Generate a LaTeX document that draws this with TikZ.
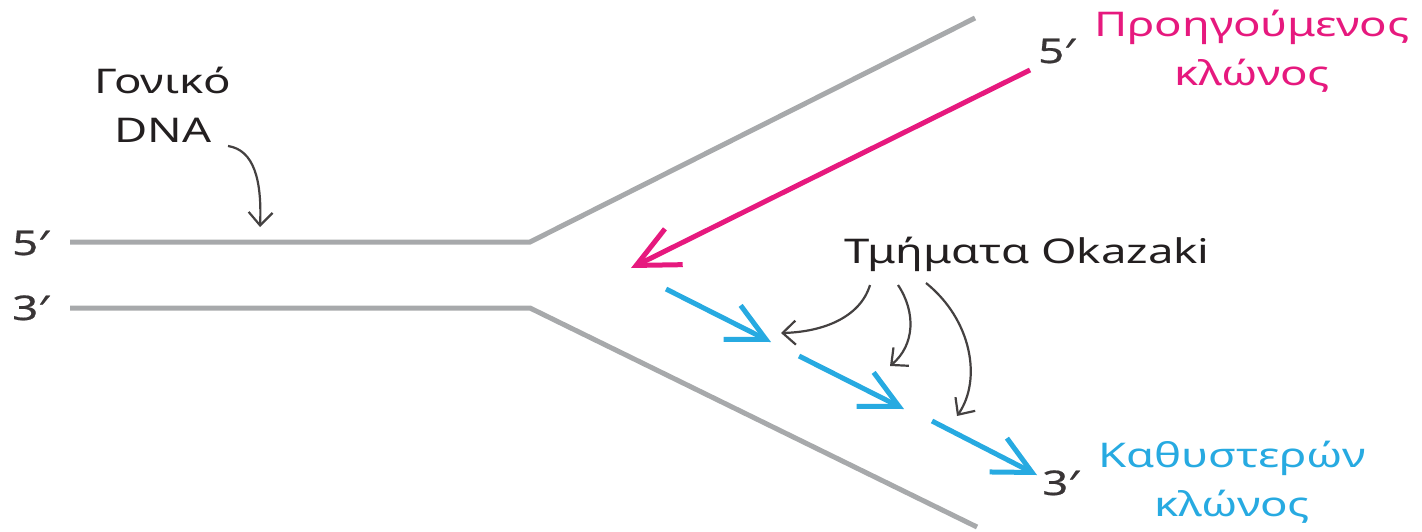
\documentclass[tikz,border=0pt]{standalone}
\usepackage{fontspec}
\setmainfont[FakeStretch=1.34]{Noto Sans}
\newfontfamily\endsfont[FakeStretch=1.34,FakeBold=0.6]{Noto Sans}
\usetikzlibrary{arrows.meta}
\definecolor{strand}{HTML}{A7A9AB}
\definecolor{lead}{HTML}{E6197E}
\definecolor{lag}{HTML}{27AAE1}
\definecolor{ink}{HTML}{231F20}
\tikzset{
  strandline/.style={draw=strand, line width=5pt, line join=miter},
  leadarrow/.style={draw=lead, line width=5pt, -{Straight Barb[length=42pt,width=40pt]}},
  lagarrow/.style={draw=lag, line width=5pt, -{Straight Barb[length=38pt,width=38pt]}},
  pointer/.style={draw=ink!85, line width=2.2pt, -{Straight Barb[length=13pt,width=24pt]}},
  % multi-line labels: the base anchor sits on the last line
  label/.style={font=\fontsize{34}{49}\selectfont, inner sep=0pt, align=center, anchor=base},
  endlabel/.style={font=\endsfont\fontsize{34}{40}\selectfont, text=ink!90, inner sep=0pt, anchor=base west},
}
\begin{document}
\begin{tikzpicture}[x=1pt, y=-1pt]
\useasboundingbox (0,0) rectangle (1422,531);

% parental strands opening into the fork
\coordinate (t0) at (70,242);
\coordinate (t1) at (530,242);
\coordinate (t2) at (975,18);
\coordinate (b0) at (70,308);
\coordinate (b1) at (530,308);
\coordinate (b2) at (977,527);
\draw[strandline] (t0) -- (t1) -- (t2);
\draw[strandline] (b0) -- (b1) -- (b2);

\node[endlabel] (p5) at (12,255) {5′};
\node[endlabel] (p3) at (12,320) {3′};

% parental DNA label and its pointer
\node[label, text=ink] (gon) at (163,142) {Γονικό\\DNA};
\coordinate (gonfrom) at (228,146);
\coordinate (gonto) at (260,227);
\draw[pointer] (gonfrom) .. controls (254,150) and (262,180) .. (gonto);

% leading strand
\coordinate (leadstart) at (1030,70);
\coordinate (leadend) at (631,268);
\draw[leadarrow] (leadstart) -- (leadend);
\node[endlabel] (l5) at (1038,63) {5′};
\node[label, text=lead] (leadlbl) at (1252,85) {Προηγούμενος\\κλώνος};

% Okazaki fragments of the lagging strand
\coordinate (f1a) at (666,289);
\coordinate (f1b) at (771,342);
\coordinate (f2a) at (799,356);
\coordinate (f2b) at (904,409);
\coordinate (f3a) at (932,421);
\coordinate (f3b) at (1037,475);
\draw[lagarrow] (f1a) -- (f1b);
\draw[lagarrow] (f2a) -- (f2b);
\draw[lagarrow] (f3a) -- (f3b);
\node[endlabel] (l3) at (1042,495) {3′};
\node[label, text=lag] (laglbl) at (1232,516) {Καθυστερών\\κλώνος};

\node[label, text=ink] (oka) at (1027,263) {Τμήματα Okazaki};
\coordinate (o1) at (870,285);
\coordinate (o2) at (898,285);
\coordinate (o3) at (926,283);
\coordinate (k1) at (781,333);
\coordinate (k2) at (890,366);
\coordinate (k3) at (957,416);
\draw[pointer] (o1) .. controls (860,318) and (822,332) .. (k1);
\draw[pointer] (o2) .. controls (916,312) and (915,345) .. (k2);
\draw[pointer] (o3) .. controls (972,320) and (982,380) .. (k3);
\end{tikzpicture}
\end{document}
